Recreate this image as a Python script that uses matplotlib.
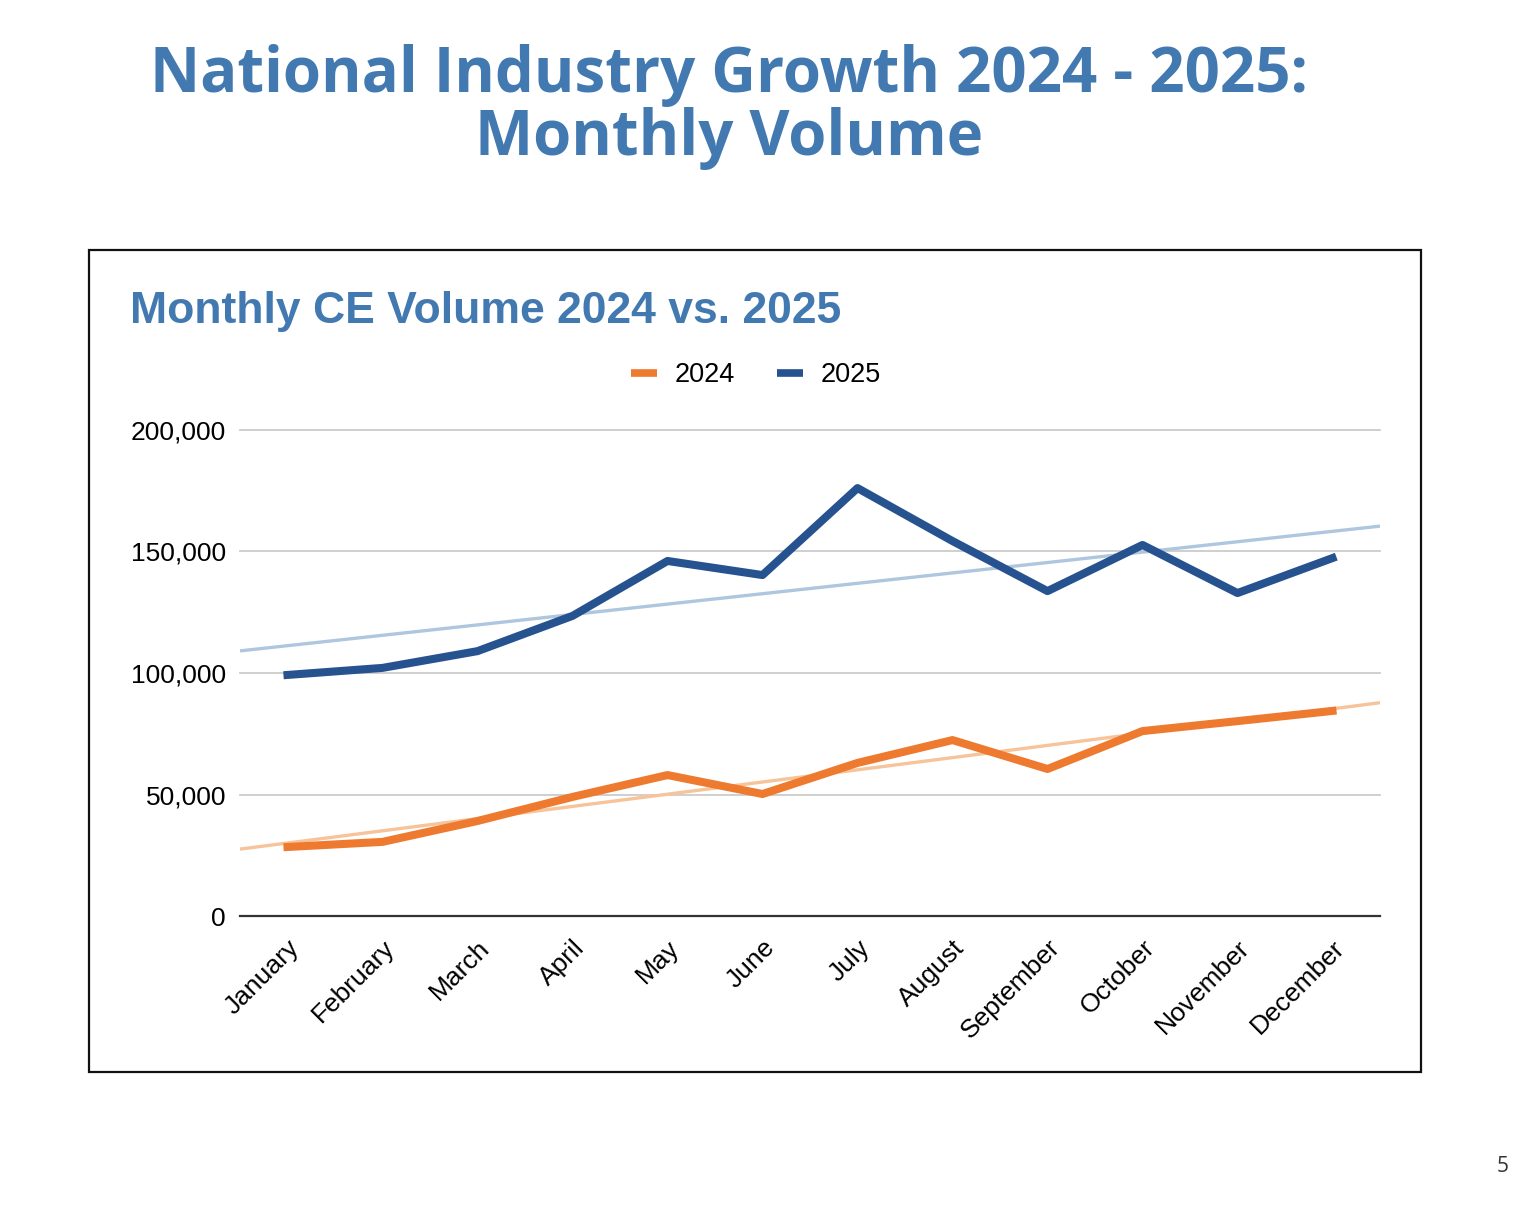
import matplotlib
matplotlib.use('Agg')
import matplotlib.pyplot as plt
import numpy as np
from matplotlib.patches import Rectangle
from matplotlib.lines import Line2D

MONTHS = ['January', 'February', 'March', 'April', 'May', 'June', 'July',
          'August', 'September', 'October', 'November', 'December']
VOL_2024 = [28400, 30500, 39100, 49000, 58000, 50200, 63000, 72400,
            60500, 76100, 80200, 84400]
VOL_2025 = [99200, 102100, 109000, 123500, 146100, 140300, 176100, 154300,
            133700, 152700, 132900, 147300]
YTICKS = [0, 50000, 100000, 150000, 200000]

ORANGE = '#ee7a30'
BLUE = '#26528f'
ORANGE_TR = '#f7c39a'
BLUE_TR = '#aec7df'
TITLE_BLUE = '#4279b0'

plt.rcParams['font.family'] = ['Liberation Sans', 'DejaVu Sans']

fig = plt.figure(figsize=(15.3, 12.14), dpi=100)
ax = fig.add_axes([240 / 1530, 1 - 916 / 1214, 1140 / 1530, 486 / 1214])

x = np.arange(len(MONTHS))
xt = np.array([-0.5, len(MONTHS) - 0.5])
for vals, col in [(VOL_2024, ORANGE_TR), (VOL_2025, BLUE_TR)]:
    k, b = np.polyfit(x, vals, 1)
    ax.plot(xt, k * xt + b, color=col, lw=2.4, zorder=2, solid_capstyle='butt')
ax.plot(x, VOL_2024, color=ORANGE, lw=5.8, zorder=3, solid_joinstyle='round')
ax.plot(x, VOL_2025, color=BLUE, lw=5.8, zorder=3, solid_joinstyle='round')

ax.set_xlim(-0.5, len(MONTHS) - 0.5)
ax.set_ylim(0, 200000)
ax.set_yticks(YTICKS, [f'{v:,}' for v in YTICKS], fontsize=19)
ax.set_xticks(x, MONTHS, fontsize=19, rotation=45, ha='right',
              rotation_mode='anchor')
ax.tick_params(axis='both', length=0, pad=10)
ax.tick_params(axis='x', pad=14)
for s in ['top', 'right', 'left']:
    ax.spines[s].set_visible(False)
ax.spines['bottom'].set_color('#333333')
ax.spines['bottom'].set_linewidth(1.6)
ax.yaxis.grid(True, color='#cccccc', lw=1.3)
ax.set_axisbelow(True)
for gl in ax.get_ygridlines():
    gl.set_clip_on(False)

handles = [Line2D([], [], color=ORANGE, lw=5.5, solid_capstyle='butt'),
           Line2D([], [], color=BLUE, lw=5.5, solid_capstyle='butt')]
fig.legend(handles, ['2024', '2025'], loc='center', ncol=2, frameon=False,
           bbox_to_anchor=(756 / 1530, 1 - 375 / 1214), fontsize=19.5,
           handlelength=0.95, handletextpad=0.65, columnspacing=1.55)

fig.patches.append(Rectangle((89 / 1530, 1 - 1072 / 1214), 1332 / 1530,
                             822 / 1214, transform=fig.transFigure,
                             fill=False, edgecolor='#111111', lw=1.6))

fig.text(130 / 1530, 1 - 312 / 1214, 'Monthly CE Volume 2024 vs. 2025',
         fontsize=32, fontweight='bold', color=TITLE_BLUE, ha='left',
         va='center')
fig.text(729 / 1530, 1 - 107 / 1214,
         'National Industry Growth 2024 - 2025:\nMonthly Volume',
         fontsize=44.5, fontweight='bold', color=TITLE_BLUE, ha='center',
         va='center', family=['Open Sans', 'DejaVu Sans'], linespacing=0.98)
fig.text(1503 / 1530, 1 - 1167 / 1214, '5', fontsize=15, color='#333333',
         ha='center', va='center', family=['Open Sans', 'DejaVu Sans'])

fig.savefig('out.png', dpi=100)
